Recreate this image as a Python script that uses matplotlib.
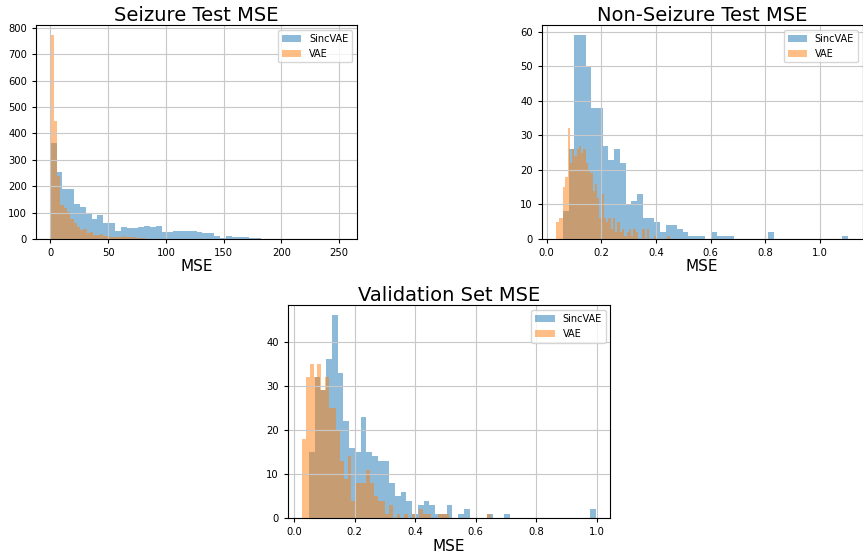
import numpy as np
import matplotlib
matplotlib.use("Agg")
import matplotlib.pyplot as plt

# histogram counts (50 bins per series)
seiz_sinc_range = (0.3, 252.8)
seiz_sinc = [364, 254, 188, 190, 133, 123, 100, 75, 89, 60,
             60, 30, 46, 41, 41, 46, 50, 44, 50, 27,
             27, 30, 30, 29, 30, 26, 22, 22, 13, 4,
             11, 6, 6, 6, 3, 3, 1, 1, 0, 1,
             0, 0, 1, 0, 0, 0, 0, 0, 0, 1]
seiz_vae_range = (0.1, 142.6)
seiz_vae = [772, 448, 237, 130, 117, 104, 75, 62, 44, 34,
            38, 22, 27, 17, 14, 20, 11, 12, 8, 9,
            7, 9, 10, 8, 9, 7, 5, 3, 2, 1,
            1, 1, 0, 1, 0, 0, 1, 0, 0, 0,
            1, 0, 0, 0, 0, 0, 0, 0, 0, 1]

nons_sinc_range = (0.059, 1.104)
nons_sinc = [8, 26, 59, 59, 50, 38, 38, 27, 23, 26,
             22, 10, 11, 13, 6, 6, 5, 2, 4, 4,
             3, 2, 1, 1, 1, 0, 2, 1, 1, 1,
             0, 0, 0, 0, 0, 0, 2, 0, 0, 0,
             0, 0, 0, 0, 0, 0, 0, 0, 0, 1]
nons_vae_range = (0.035, 0.450)
nons_vae = [5, 6, 6, 15, 18, 32, 22, 26, 24, 26,
            27, 25, 26, 22, 20, 19, 14, 16, 12, 6,
            13, 6, 5, 6, 3, 6, 2, 5, 2, 3,
            1, 2, 3, 1, 3, 2, 0, 0, 3, 0,
            3, 0, 0, 1, 0, 0, 0, 0, 0, 1]

val_sinc_range = (0.0485, 0.997)
val_sinc = [15, 32, 29, 36, 46, 33, 22, 16, 15, 23,
            15, 14, 13, 13, 8, 5, 6, 4, 1, 3,
            4, 3, 1, 1, 3, 0, 1, 2, 0, 0,
            0, 1, 0, 0, 1, 0, 0, 0, 0, 0,
            0, 0, 0, 0, 0, 0, 0, 0, 0, 2]
val_vae_range = (0.027, 0.650)
val_vae = [18, 32, 35, 32, 35, 29, 32, 25, 25, 20,
           13, 9, 14, 4, 8, 8, 8, 11, 8, 5,
           4, 4, 1, 3, 0, 1, 0, 1, 0, 1,
           0, 2, 1, 1, 0, 0, 1, 1, 1, 0,
           0, 0, 0, 0, 0, 0, 0, 0, 0, 1]

titles = ["Seizure Test MSE", "Non-Seizure Test MSE", "Validation Set MSE"]
panels = [
    (seiz_sinc_range, seiz_sinc, seiz_vae_range, seiz_vae),
    (nons_sinc_range, nons_sinc, nons_vae_range, nons_vae),
    (val_sinc_range, val_sinc, val_vae_range, val_vae),
]

plt.rcParams['xtick.labelsize'] = 7.2
plt.rcParams['ytick.labelsize'] = 7.2
plt.rcParams['xtick.major.size'] = 3
plt.rcParams['ytick.major.size'] = 3
plt.rcParams['grid.color'] = '#c8c8c8'

fig = plt.figure(figsize=(8.63, 5.54), dpi=100)
rects = [
    [0.0417, 0.5686, 0.372, 0.3863],
    [0.6277, 0.5686, 0.372, 0.3863],
    [0.3334, 0.0644, 0.374, 0.3850],
]

for rect, title, (r1, c1, r2, c2) in zip(rects, titles, panels):
    ax = fig.add_axes(rect)
    e1 = np.linspace(r1[0], r1[1], len(c1) + 1)
    e2 = np.linspace(r2[0], r2[1], len(c2) + 1)
    ax.hist(e1[:-1], bins=e1, weights=c1, alpha=0.5, label="SincVAE")
    ax.hist(e2[:-1], bins=e2, weights=c2, alpha=0.5, label="VAE")
    ax.set_title(title, fontsize=14, pad=3)
    ax.set_xlabel("MSE", fontsize=11, labelpad=1)
    ax.grid(True)
    ax.legend(loc="upper right", fontsize=7)

fig.savefig("out.png", dpi=100)
